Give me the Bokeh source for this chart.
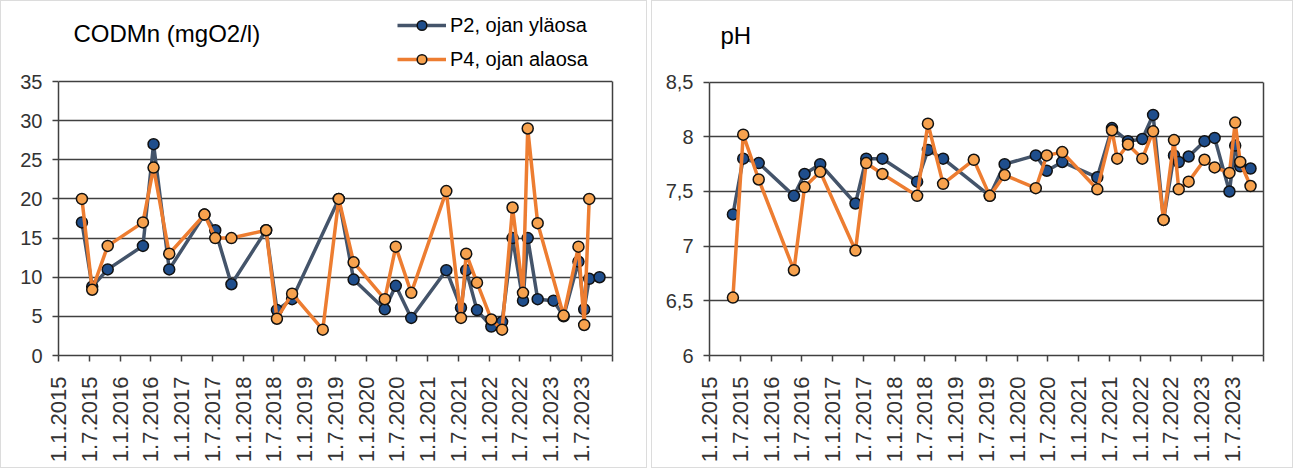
import math
import pandas as pd
from bokeh.plotting import figure
from bokeh.models import FixedTicker, Legend, LegendItem, Label, Range1d, LinearAxis
from bokeh.layouts import row
from bokeh.embed import file_html
from bokeh.resources import INLINE

# ---------------- data ----------------
cod_p2_dates = ["2015-05-20", "2015-07-20", "2015-10-20", "2016-05-16", "2016-07-18", "2016-10-19",
                "2017-05-16", "2017-07-19", "2017-10-23", "2018-05-17", "2018-07-20", "2018-10-18",
                "2019-07-22", "2019-10-18", "2020-04-20", "2020-06-24", "2020-09-24", "2021-04-20",
                "2021-07-16", "2021-08-16", "2021-10-19", "2022-01-12", "2022-03-17", "2022-05-18",
                "2022-07-19", "2022-08-16", "2022-10-14", "2023-01-16", "2023-03-17", "2023-06-13",
                "2023-07-17", "2023-08-16", "2023-10-16"]
cod_p2 = [17, 8.8, 11, 14, 27, 11, 18, 16, 9.1, 16, 5.8, 7.2, 20, 9.7, 5.9, 8.9, 4.8, 10.9,
          6.1, 10.9, 5.8, 3.7, 4.3, 15, 7.0, 15, 7.2, 7.0, 5.0, 12, 5.9, 9.8, 10.0]

cod_p4_dates = ["2015-05-20", "2015-07-20", "2015-10-20", "2016-05-16", "2016-07-18", "2016-10-19",
                "2017-05-16", "2017-07-19", "2017-10-23", "2018-05-17", "2018-07-20", "2018-10-18",
                "2019-04-18", "2019-07-22", "2019-10-18", "2020-04-20", "2020-06-24", "2020-09-24",
                "2021-04-20", "2021-07-16", "2021-08-16", "2021-10-19", "2022-01-12", "2022-03-17",
                "2022-05-18", "2022-07-19", "2022-08-16", "2022-10-14", "2023-03-17", "2023-06-13",
                "2023-07-17", "2023-08-16"]
cod_p4 = [20, 8.4, 14, 17, 24, 13, 18, 15, 15, 16, 4.7, 7.9, 3.3, 20, 11.9, 7.2, 13.9, 8.0,
          21, 4.8, 13, 9.3, 4.6, 3.3, 18.9, 8.0, 29, 16.9, 5.1, 13.9, 3.9, 20]

ph_p2_dates = ["2015-05-20", "2015-07-20", "2015-10-20", "2016-05-16", "2016-07-18", "2016-10-19",
               "2017-05-16", "2017-07-19", "2017-10-23", "2018-05-17", "2018-07-20", "2018-10-18",
               "2019-07-22", "2019-10-18", "2020-04-20", "2020-06-24", "2020-09-24", "2021-04-20",
               "2021-07-16", "2021-10-19", "2022-01-12", "2022-03-17", "2022-05-18", "2022-07-19",
               "2022-08-16", "2022-10-14", "2023-01-16", "2023-03-17", "2023-06-13", "2023-07-17",
               "2023-08-16", "2023-10-16"]
ph_p2 = [7.29, 7.80, 7.76, 7.46, 7.66, 7.75, 7.39, 7.80, 7.80, 7.59, 7.88, 7.80,
         7.46, 7.75, 7.83, 7.69, 7.77, 7.63, 8.08, 7.96, 7.98, 8.20, 7.24, 7.83,
         7.77, 7.82, 7.96, 7.99, 7.50, 7.92, 7.73, 7.71]

ph_p4_dates = ["2015-05-20", "2015-07-20", "2015-10-20", "2016-05-16", "2016-07-18", "2016-10-19",
               "2017-05-16", "2017-07-19", "2017-10-23", "2018-05-17", "2018-07-20", "2018-10-18",
               "2019-04-18", "2019-07-22", "2019-10-18", "2020-04-20", "2020-06-24", "2020-09-24",
               "2021-04-20", "2021-07-16", "2021-08-16", "2021-10-19", "2022-01-12", "2022-03-17",
               "2022-05-18", "2022-07-19", "2022-08-16", "2022-10-14", "2023-01-16", "2023-03-17",
               "2023-06-13", "2023-07-17", "2023-08-16", "2023-10-16"]
ph_p4 = [6.53, 8.02, 7.61, 6.78, 7.54, 7.68, 6.96, 7.76, 7.66, 7.46, 8.12, 7.57,
         7.79, 7.46, 7.65, 7.53, 7.83, 7.86, 7.52, 8.06, 7.80, 7.93, 7.80, 8.05,
         7.24, 7.97, 7.52, 7.59, 7.79, 7.72, 7.67, 8.13, 7.77, 7.55]

series_names = ["P2, ojan yläosa", "P4, ojan alaosa"]
cod_title = "CODMn (mgO2/l)"
ph_title = "pH"
cod_yticks = [0, 5, 10, 15, 20, 25, 30, 35]
ph_yticks = [6, 6.5, 7, 7.5, 8, 8.5]
ph_ylabels = ["6", "6,5", "7", "7,5", "8", "8,5"]

# ---------------- styling ----------------
FONT = "Liberation Sans"
BLUE_LINE = "#44546A"
BLUE_FILL = "#1F4E8C"
ORANGE_LINE = "#ED7D31"
ORANGE_FILL = "#F7A24E"
GRID = "#404040"

tick_dates = pd.date_range("2015-01-01", "2024-01-01", freq="6MS")
tick_ms = [int(t.value // 10**6) for t in tick_dates]
x_labels = {ms: f"{t.day}.{t.month}.{t.year}" for ms, t in zip(tick_ms, tick_dates)}
x_labels[tick_ms[-1]] = ""


def make_fig(width, height, left, right, top, bottom, axis_px, y0, y1, yticks, ylabels=None):
    # the frame is taller than the value axis so titles and legend sit inside it
    frame_h = height - top - bottom
    y_top = y0 + (y1 - y0) * frame_h / axis_px
    p = figure(width=width, height=height, x_axis_type="datetime",
               output_backend="svg", toolbar_location=None,
               x_range=Range1d(tick_dates[0], tick_dates[-1]), y_range=Range1d(y0, y_top),
               min_border_left=left, min_border_right=right,
               min_border_top=top, min_border_bottom=bottom)
    p.styles = {"border": "1px solid #dcdcdc", "box-sizing": "border-box"}
    p.outline_line_color = None
    p.xgrid.visible = False
    p.ygrid.grid_line_color = GRID
    p.ygrid.grid_line_width = 1.5
    xa = p.xaxis[0]
    xa.ticker = FixedTicker(ticks=tick_ms)
    xa.major_label_overrides = x_labels
    xa.major_label_orientation = math.pi / 2
    xa.major_tick_out = 6
    xa.major_tick_in = 0
    xa.minor_tick_out = 0
    xa.minor_tick_in = 0
    xa.axis_line_color = GRID
    xa.axis_line_width = 1.5
    xa.major_tick_line_color = GRID
    xa.major_tick_line_width = 1.5
    xa.major_label_text_font = FONT
    xa.major_label_text_font_size = "22px"
    xa.major_label_text_color = "#333333"
    xa.major_label_standoff = 15
    ya = p.yaxis[0]
    ya.ticker = FixedTicker(ticks=yticks)
    ya.bounds = (y0, y1)
    if ylabels is not None:
        ya.major_label_overrides = {t: l for t, l in zip(yticks, ylabels)}
    ya.major_tick_out = 6
    ya.major_tick_in = 0
    ya.minor_tick_out = 0
    ya.minor_tick_in = 0
    ya.axis_line_color = GRID
    ya.axis_line_width = 1.5
    ya.major_tick_line_color = GRID
    ya.major_tick_line_width = 1.5
    ya.major_label_text_font = FONT
    ya.major_label_text_font_size = "20px"
    ya.major_label_text_color = "#333333"
    ya.major_label_standoff = 10
    ra = LinearAxis(ticker=FixedTicker(ticks=[]), bounds=(y0, y1),
                    axis_line_color=GRID, axis_line_width=1.5,
                    major_tick_line_color=None, minor_tick_line_color=None,
                    major_label_text_font_size="0px")
    p.add_layout(ra, "right")
    return p


def add_series(p, d2, v2, d4, v4):
    x2 = pd.to_datetime(d2)
    x4 = pd.to_datetime(d4)
    l2 = p.line(x2, v2, line_color=BLUE_LINE, line_width=3.5)
    s2 = p.scatter(x2, v2, size=11, fill_color=BLUE_FILL, line_color="#111111", line_width=1.5)
    l4 = p.line(x4, v4, line_color=ORANGE_LINE, line_width=3.5)
    s4 = p.scatter(x4, v4, size=11, fill_color=ORANGE_FILL, line_color="#111111", line_width=1.5)
    return (l2, s2), (l4, s4)


# ---- left: CODMn ----
p1 = make_fig(647, 468, 57, 36, 4, 114, 274, 0, 35, cod_yticks)
r2, r4 = add_series(p1, cod_p2_dates, cod_p2, cod_p4_dates, cod_p4)
p1.add_layout(Label(x=15, y=322, x_units="screen", y_units="screen", text=cod_title,
                    text_font=FONT, text_font_size="24px", text_baseline="middle",
                    text_color="black"))
legend = Legend(items=[LegendItem(label=series_names[0], renderers=list(r2)),
                       LegendItem(label=series_names[1], renderers=list(r4))],
                location=(339, 284), glyph_width=49, glyph_height=24, label_height=24,
                spacing=10, padding=0, margin=0, label_standoff=4,
                label_text_font=FONT, label_text_font_size="20px", label_text_color="black",
                border_line_color=None, background_fill_alpha=0)
p1.add_layout(legend)

# ---- right: pH ----
p2 = make_fig(642, 468, 57, 31, 4, 111, 275.7, 6, 8.5, ph_yticks, ph_ylabels)
add_series(p2, ph_p2_dates, ph_p2, ph_p4_dates, ph_p4)
p2.add_layout(Label(x=11, y=320, x_units="screen", y_units="screen", text=ph_title,
                    text_font=FONT, text_font_size="24px", text_baseline="middle",
                    text_color="black"))

layout = row(p1, p2, spacing=4)
open("out.html", "w").write(file_html(layout, INLINE))
